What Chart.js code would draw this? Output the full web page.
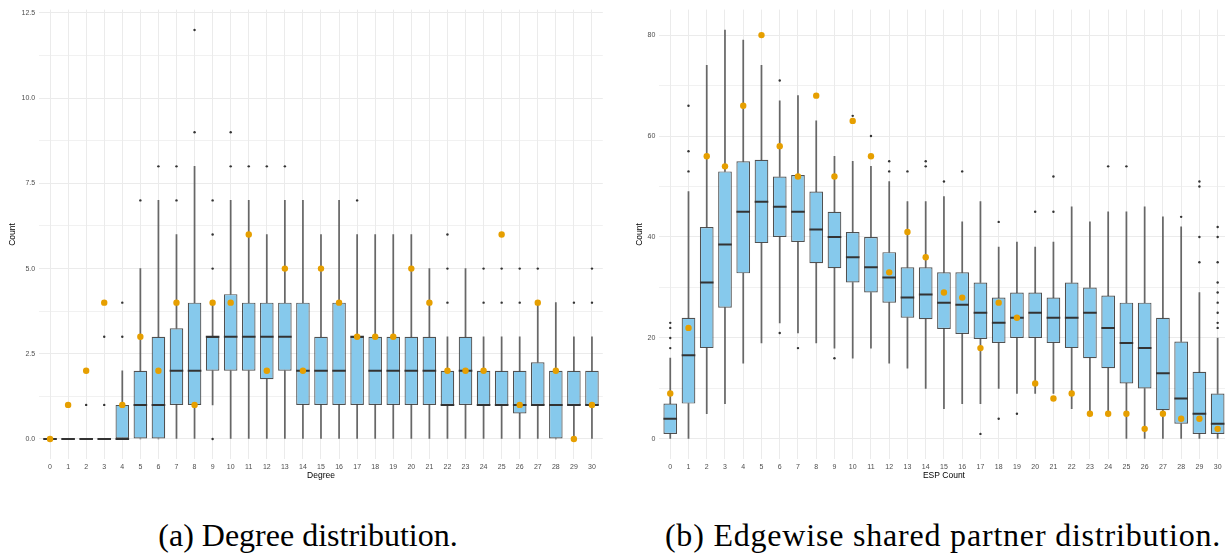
<!DOCTYPE html>
<html>
<head>
<meta charset="utf-8">
<script src="https://cdn.jsdelivr.net/npm/chart.js@4.4.1/dist/chart.umd.min.js"></script>
<style>
  html, body { margin: 0; padding: 0; background: #fff; overflow: hidden; width: 1225px; height: 555px; }
  .panel { position: absolute; top: 0; width: 612px; height: 490px; }
  #panelA { left: 0; }
  #panelB { left: 627px; }
  .cap { position: absolute; top: 519px; font-family: "Liberation Serif", serif; font-size: 32px; line-height: 32px;
         white-space: nowrap; color: #000; transform: translateX(-50%); }
</style>
</head>
<body>
<div class="panel" id="panelA"><canvas id="degChart" width="612" height="490"></canvas></div>
<div class="panel" id="panelB"><canvas id="espChart" width="612" height="490"></canvas></div>
<div class="cap" style="left:308px">(a) Degree distribution.</div>
<div class="cap" style="left:943px; letter-spacing:0.8px">(b) Edgewise shared partner distribution.</div>

<script>
// ---- Degree distribution (simulated networks vs observed) ----
const degCategories = [0,1,2,3,4,5,6,7,8,9,10,11,12,13,14,15,16,17,18,19,20,21,22,23,24,25,26,27,28,29,30];
const degQ1     = [0,0,0,0,0,0,0,1,1,2,2,2,1.75,2,1,1,1,1,1,1,1,1,1,1,1,1,0.75,1,0,1,1];
const degQ3     = [0,0,0,0,1,2,3,3.25,4,3,4.25,4,4,4,4,3,4,3,3,3,3,3,2,3,2,2,2,2.25,2,2,2];
const degMedian = [0,0,0,0,0,1,1,2,2,3,3,3,3,3,2,2,2,3,2,2,2,2,1,2,1,1,1,1,1,1,1];
const degLow    = [0,0,0,0,0,0,0,0,0,1,0,0,0,0,0,0,0,0,0,0,0,0,0,0,0,0,0,0,0,0,0];
const degHigh   = [0,0,0,0,2,5,7,6,8,4,7,7,6,7,7,6,7,6,6,6,6,5,3,5,3,3,3,4,4,3,3];
const degOutlierX = [1,2,3,3,3,4,4,5,6,7,7,8,8,9,9,9,9,10,10,11,12,13,17,22,22,22,24,24,25,25,26,26,27,29,30,30];
const degOutlierY = [1,1,1,3,4,3,4,7,8,7,8,9,12,0,5,6,7,8,9,8,8,8,7,4,5,6,4,5,4,5,4,5,5,4,4,5];
const degObserved = [0,1,2,4,1,3,2,4,1,4,4,6,2,5,2,5,4,3,3,3,5,4,2,2,2,6,1,4,2,0,1];
const degYTicks   = [0,1.25,2.5,3.75,5,6.25,7.5,8.75,10,11.25,12.5];
const degYLabels  = ["0.0","","2.5","","5.0","","7.5","","10.0","","12.5"];

// ---- Edgewise shared partner distribution ----
const espCategories = [0,1,2,3,4,5,6,7,8,9,10,11,12,13,14,15,16,17,18,19,20,21,22,23,24,25,26,27,28,29,30];
const espQ1     = [1,7,18,26,32.8,38.8,40,39,34.8,33.8,31,29,27,24,23.7,21.8,20.8,19.8,19,20,20,19,18,16,14,11,10,5.7,3,1,1];
const espQ3     = [7,24,42,53,55,55.3,52,52.3,49,45,41,40,37,34,34,33,33,31,28,29,29,28,31,30,28.4,27,27,24,19.3,13.3,9];
const espMedian = [4,16.6,31,38.5,45,47,46,45,41.5,40,36,34,32,28,28.6,27,26.6,25,23,24,25,24,24,25,22,19,18,13,8,5,3];
const espLow    = [0,0,5,7,15,19,23,21,19,18,16,18,15,14,10,6,7,7,10,9,9,9,6,5,5,0,0,0,0,0,0];
const espHigh   = [16,49,74,81,79,74,67,68,63,56,55,54,51,47,47,48,43,47,38,39,38,39,46,43,45,45,46,44,42,29,20];
const espOutlierX = [0,0,0,0,1,1,1,6,6,7,9,10,11,12,12,13,14,14,15,16,17,18,18,19,20,21,21,24,25,28,
                     29,29,29,29,30,30,30,30,30,30,30,30,30];
const espOutlierY = [18,20,22,23,53,57,66,21,71,18,16,64,60,53,55,53,54,55,51,53,1,4,43,5,45,45,52,54,54,44,
                     35,40,50,51,22,23,25,27,29,31,35,40,42];
const espObserved = [9,22,56,54,66,80,58,52,68,52,63,56,33,41,36,29,28,18,27,24,11,8,9,5,5,5,2,5,4,4,2];
const espYTicks   = [0,10,20,30,40,50,60,70,80];
const espYLabels  = ["0","","20","","40","","60","","80"];

const boxFill    = '#86C9EC';
const boxLine    = 'rgba(51,51,51,0.85)';
const whiskerCol = 'rgba(51,51,51,0.72)';
const obsColor   = '#E69F00';
const gridColor  = '#EBEBEB';
const tickFont   = { family: 'Liberation Sans, Arial, sans-serif', size: 7 };
const titleFont  = { family: 'Liberation Sans, Arial, sans-serif', size: 8.5 };

function buildChart(canvasId, s) {
  const idx = s.cats.map((c, i) => i);
  const datasets = [
    { // observed statistic
      type: 'scatter', order: 0,
      data: idx.map(i => ({ x: i, y: s.observed[i] })),
      backgroundColor: obsColor, borderColor: obsColor, pointRadius: 3.2, borderWidth: 0
    },
    { // outliers of the simulated distribution
      type: 'scatter', order: 1,
      data: s.outX.map((x, k) => ({ x: x, y: s.outY[k] })),
      backgroundColor: '#333', borderColor: '#333', pointRadius: 1.2, borderWidth: 0
    },
    { // medians
      type: 'scatter', order: 2,
      data: idx.map(i => ({ x: i, y: s.median[i] })),
      pointStyle: 'line', pointRadius: 6.8, borderColor: '#333', borderWidth: 2
    },
    { // interquartile boxes
      type: 'bar', order: 3, grouped: false,
      data: idx.map(i => ({ x: i, y: [s.q1[i], s.q3[i]] })),
      backgroundColor: boxFill, borderColor: boxLine, borderWidth: 1.2, borderSkipped: false,
      barPercentage: 0.75, categoryPercentage: 1
    },
    { // lower whiskers
      type: 'bar', order: 4, grouped: false,
      data: idx.map(i => ({ x: i, y: [s.low[i], s.q1[i]] })),
      backgroundColor: whiskerCol, borderWidth: 0, barThickness: 1.1
    },
    { // upper whiskers
      type: 'bar', order: 4, grouped: false,
      data: idx.map(i => ({ x: i, y: [s.q3[i], s.high[i]] })),
      backgroundColor: whiskerCol, borderWidth: 0, barThickness: 1.1
    }
  ];

  return new Chart(document.getElementById(canvasId), {
    type: 'bar',
    data: { datasets },
    options: {
      responsive: false,
      animation: false,
      events: [],
      layout: { padding: { top: 9.6, right: s.padRight, left: 0, bottom: 0 } },
      plugins: { legend: { display: false }, tooltip: { enabled: false } },
      scales: {
        x: {
          type: 'linear', min: -0.6, max: 30.6, offset: false,
          afterBuildTicks: sc => { sc.ticks = s.cats.map((c, i) => ({ value: i })); },
          afterFit: sc => { sc.height = 490 - s.bottom; },
          ticks: { callback: (v) => String(s.cats[v]), font: tickFont, color: '#4D4D4D', padding: 3, maxRotation: 0, autoSkip: false },
          grid: { color: gridColor, lineWidth: 1, drawTicks: false, offset: false },
          border: { display: false },
          title: { display: true, text: s.xTitle, font: titleFont, color: '#000', padding: { top: 0, bottom: 9 } }
        },
        y: {
          type: 'linear', min: s.yMin, max: s.yMax,
          afterBuildTicks: sc => { sc.ticks = s.yTicks.map(v => ({ value: v })); },
          afterFit: sc => { sc.width = s.yWidth; },
          ticks: {
            callback: (v) => s.yLabels[s.yTicks.indexOf(v)],
            font: tickFont, color: '#4D4D4D', padding: 4, autoSkip: false
          },
          grid: {
            color: gridColor, drawTicks: false,
            lineWidth: ctx => (s.yLabels[ctx.index] === '' ? 0.7 : 1.1)
          },
          border: { display: false },
          title: { display: true, text: 'Count', font: titleFont, color: '#000', padding: { top: 8, bottom: 0 } }
        }
      }
    }
  });
}

buildChart('degChart', {
  cats: degCategories, q1: degQ1, q3: degQ3, median: degMedian, low: degLow, high: degHigh,
  outX: degOutlierX, outY: degOutlierY, observed: degObserved,
  yTicks: degYTicks, yLabels: degYLabels, yMin: -0.6, yMax: 12.6,
  xTitle: 'Degree', yWidth: 39.2, padRight: 9.2, bottom: 459.4
});

buildChart('espChart', {
  cats: espCategories, q1: espQ1, q3: espQ3, median: espMedian, low: espLow, high: espHigh,
  outX: espOutlierX, outY: espOutlierY, observed: espObserved,
  yTicks: espYTicks, yLabels: espYLabels, yMin: -4.05, yMax: 85.05,
  xTitle: 'ESP Count', yWidth: 32.3, padRight: 10.4, bottom: 459.4
});
</script>
</body>
</html>
